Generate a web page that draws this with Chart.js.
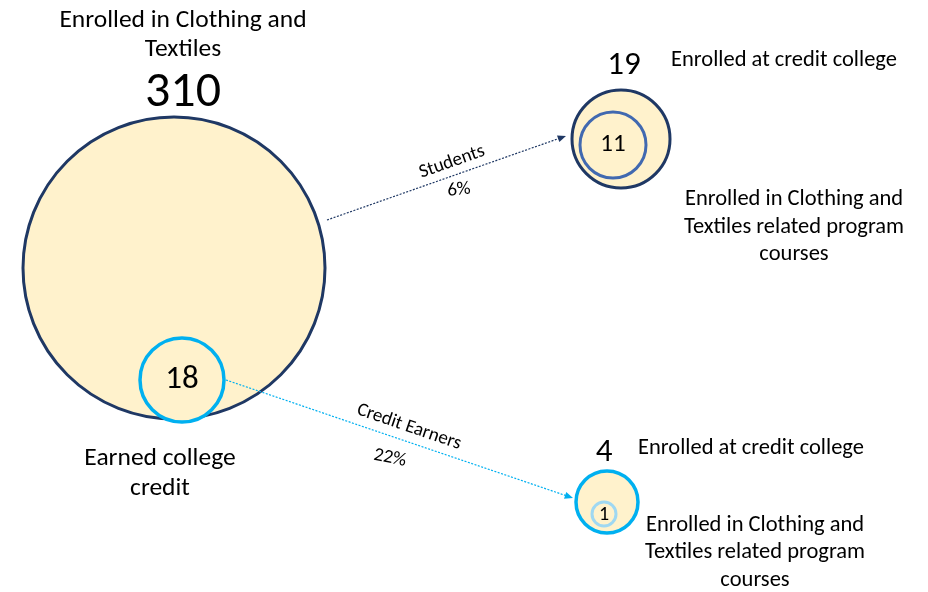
<!DOCTYPE html>
<html>
<head>
<meta charset="utf-8">
<script src="https://cdn.jsdelivr.net/npm/chart.js@4/dist/chart.umd.min.js"></script>
<style>
  body { margin: 0; background: #fff; }
  #wrap { width: 928px; height: 592px; }
</style>
</head>
<body>
<div id="wrap"><canvas id="chart"></canvas></div>
<script>
// counts shown in each circle
var groups = ["Clothing and Textiles", "Earned credit", "Students at college", "Students in program", "Earners at college", "Earners in program"];
var counts = [310, 18, 19, 11, 4, 1];
var shares = ["6%", "22%"];
var flows = ["Students", "Credit Earners"];

// layout of the diagram (page coordinates)
var cx = [174, 182, 621, 613, 607, 604];
var cy = [268, 380, 139, 145, 502, 514];
var rad = [151, 42, 49, 33, 31, 12];
var fills = ["#fff2cc", "#fff2cc", "#fff2cc", "#fff2cc", "#fff2cc", "#fff2cc"];
var borders = ["#1f3864", "#00b0f0", "#1f3864", "#4169b0", "#00b0f0", "#9fd8f2"];
var widths = [3, 3.5, 3, 3, 3.5, 3];

var points = counts.map(function (c, i) {
    return { x: cx[i], y: cy[i], r: rad[i], v: c };
});

var FONT = "Carlito, Lato, 'Liberation Sans', sans-serif";

function text(ctx, s, x, y, size, align) {
    ctx.font = size + "px " + FONT;
    ctx.textAlign = align || "center";
    ctx.textBaseline = "middle";
    ctx.fillText(s, x, y);
}

function arrow(ctx, x1, y1, x2, y2, color) {
    ctx.save();
    ctx.strokeStyle = color;
    ctx.fillStyle = color;
    ctx.lineWidth = 1.2;
    ctx.setLineDash([2, 1.5]);
    var a = Math.atan2(y2 - y1, x2 - x1);
    var ex = x2 - 7 * Math.cos(a), ey = y2 - 7 * Math.sin(a);
    ctx.beginPath();
    ctx.moveTo(x1, y1);
    ctx.lineTo(ex, ey);
    ctx.stroke();
    ctx.setLineDash([]);
    ctx.beginPath();
    ctx.moveTo(x2, y2);
    ctx.lineTo(x2 - 9 * Math.cos(a - 0.4), y2 - 9 * Math.sin(a - 0.4));
    ctx.lineTo(x2 - 9 * Math.cos(a + 0.4), y2 - 9 * Math.sin(a + 0.4));
    ctx.closePath();
    ctx.fill();
    ctx.restore();
}

function rotText(ctx, s, x, y, ang, size) {
    ctx.save();
    ctx.translate(x, y);
    ctx.rotate(ang);
    text(ctx, s, 0, 0, size);
    ctx.restore();
}

var labels = {
    id: "labels",
    afterDatasetsDraw: function (chart) {
        var ctx = chart.ctx, xs = chart.scales.x, ys = chart.scales.y;
        var X = function (v) { return xs.getPixelForValue(v); };
        var Y = function (v) { return ys.getPixelForValue(v); };
        // arrows between the circles
        arrow(ctx, X(327), Y(220), X(566), Y(136), "#1f3864");
        arrow(ctx, X(226), Y(380), X(573), Y(498), "#00b0f0");
        ctx.save();
        ctx.fillStyle = "#000";
        // numbers
        text(ctx, String(counts[0]), X(183), Y(93), 50);
        text(ctx, String(counts[1]), X(cx[1]), Y(cy[1]), 33);
        text(ctx, String(counts[2]), X(624), Y(66), 33);
        text(ctx, String(counts[3]), X(cx[3]), Y(cy[3]), 25);
        text(ctx, String(counts[4]), X(604), Y(453), 33);
        text(ctx, String(counts[5]), X(cx[5]), Y(cy[5] + 1), 20);
        // captions
        text(ctx, "Enrolled in Clothing and", X(183), Y(21), 25.5);
        text(ctx, "Textiles", X(183), Y(50), 25.5);
        text(ctx, "Earned college", X(160), Y(459), 25.5);
        text(ctx, "credit", X(160), Y(489), 25.5);
        text(ctx, "Enrolled at credit college", X(671), Y(60), 22.5, "left");
        text(ctx, "Enrolled in Clothing and", X(794), Y(199), 22.5);
        text(ctx, "Textiles related program", X(794), Y(227), 22.5);
        text(ctx, "courses", X(794), Y(254), 22.5);
        text(ctx, "Enrolled at credit college", X(638), Y(448), 22.5, "left");
        text(ctx, "Enrolled in Clothing and", X(755), Y(525), 22.5);
        text(ctx, "Textiles related program", X(755), Y(552), 22.5);
        text(ctx, "courses", X(755), Y(580), 22.5);
        // flow labels
        rotText(ctx, flows[0], X(452), Y(162), -0.34, 19);
        rotText(ctx, shares[0], X(459), Y(190), -0.12, 19);
        rotText(ctx, flows[1], X(409), Y(427), 0.33, 19);
        rotText(ctx, shares[1], X(390), Y(458), 0.2, 19);
        ctx.restore();
    }
};

var ctx = document.getElementById("chart");
var myChart = new Chart(ctx, {
    type: "bubble",
    data: {
        labels: groups,
        datasets: [{
            data: points,
            backgroundColor: fills,
            borderColor: borders,
            borderWidth: widths,
            clip: false
        }]
    },
    options: {
        responsive: true,
        maintainAspectRatio: false,
        animation: false,
        layout: { padding: 0, autoPadding: false },
        scales: {
            x: { type: "linear", min: 0, max: 928, display: false },
            y: { type: "linear", min: 0, max: 592, reverse: true, display: false }
        },
        plugins: {
            legend: { display: false },
            tooltip: { enabled: false }
        },
        events: []
    },
    plugins: [labels]
});
</script>
</body>
</html>
